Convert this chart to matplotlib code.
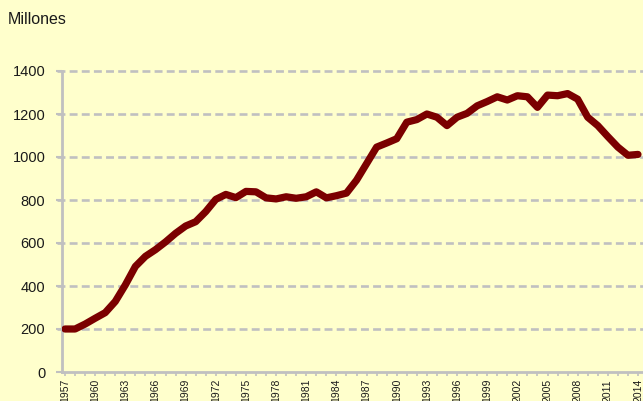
import numpy as np
import matplotlib
matplotlib.use("Agg")
import matplotlib.pyplot as plt
from matplotlib.ticker import MultipleLocator

plt.rcParams["font.family"] = ["Liberation Sans", "DejaVu Sans"]

# --- data ---
years = list(range(1957, 2015))
values = [
    200, 200, 223, 250, 276, 328, 405, 491, 538, 569,
    605, 645, 679, 699, 746, 803, 826, 811, 840, 838,
    810, 805, 815, 808, 815, 838, 810, 820, 832, 892,
    969, 1046, 1065, 1085, 1162, 1174, 1200, 1185, 1146, 1185,
    1203, 1238, 1258, 1280, 1265, 1285, 1280, 1231, 1288, 1285,
    1295, 1269, 1185, 1146, 1095, 1046, 1008, 1012,
]
label_years = list(range(1957, 2015, 3))
y_ticks = [0, 200, 400, 600, 800, 1000, 1200, 1400]

BG = "#FFFFCC"
GRID = "#C0C0C0"
LINE = "#7B0000"

W, H = 643, 401
fig = plt.figure(figsize=(W / 100, H / 100), dpi=100, facecolor=BG)
ax = fig.add_axes([62 / W, (H - 372) / H, (W - 62) / W, (372 - 71) / H])
ax.set_facecolor(BG)

ax.plot(years, values, color=LINE, lw=5.2, solid_capstyle="round",
        solid_joinstyle="round", zorder=3)

ax.set_xlim(1956.7, 2014.5)
ax.set_ylim(0, 1400)

ax.set_yticks(y_ticks)
ax.set_yticklabels([str(v) for v in y_ticks], fontsize=10.5, color="#1a1a1a")
for v in y_ticks[1:]:
    ax.axhline(v, color=GRID, lw=1.9, dashes=(3.0, 1.6), zorder=1,
               xmin=-0.008, clip_on=False)

ax.set_xticks(label_years)
ax.set_xticklabels([str(y) for y in label_years], rotation=90, fontsize=7.5,
                   color="#1a1a1a")
ax.xaxis.set_minor_locator(MultipleLocator(1))
ax.tick_params(axis="x", which="both", length=3, width=1.2, color=GRID, pad=2)
ax.tick_params(axis="y", length=4, width=1.5, color=GRID, pad=8)

for side in ["top", "right"]:
    ax.spines[side].set_visible(False)
for side in ["left", "bottom"]:
    ax.spines[side].set_color(GRID)
    ax.spines[side].set_linewidth(2)

fig.text(8 / W, 1 - 20 / H, "Millones", fontsize=11.5, color="#1a1a1a",
         va="center", ha="left")

fig.savefig("out.png", dpi=100, facecolor=BG)
